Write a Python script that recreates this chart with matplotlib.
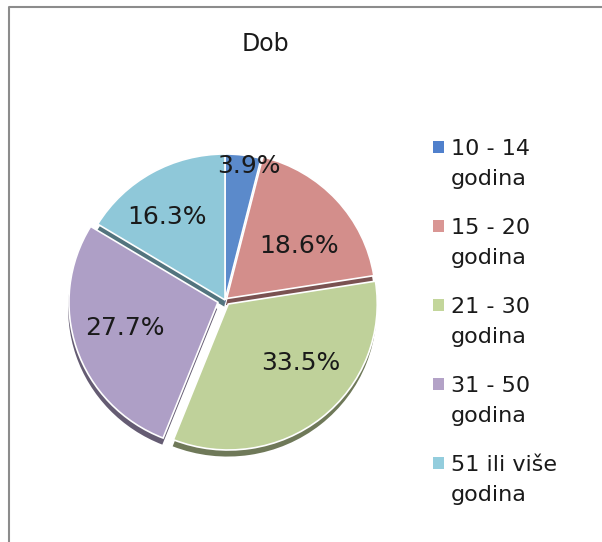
import numpy as np
import matplotlib
matplotlib.use("Agg")
import matplotlib.pyplot as plt
import matplotlib.colors as mcolors
from matplotlib.lines import Line2D
from matplotlib.patches import Rectangle, Wedge


# Data
title = "Dob"
categories = ["10 - 14\ngodina", "15 - 20\ngodina", "21 - 30\ngodina",
              "31 - 50\ngodina", "51 ili više\ngodina"]
shares = [3.9, 18.6, 33.5, 27.7, 16.3]
colors = ["#5B8ACB", "#D38E8B", "#BFD19A", "#AE9FC6", "#8FC8D9"]
legend_colors = ["#5080CC", "#D99694", "#C3D69B", "#B3A2C7", "#93CDDD"]

# Styles
explode = [0.0, 0.015, 0.035, 0.05, 0.0]
# label placement (angle offset from slice middle, distance from pie centre)
label_shift = [-3, -6, 11, -2.5, 5]
label_dist = [0.93, 0.62, 0.67, 0.70, 0.685]

W, H = 602, 542
fig = plt.figure(figsize=(W / 100, H / 100), dpi=100)

# pie axes, slightly wider than tall like the original
cx, cy = 225, 300
rx, ry = 149, 146
lim = 1.2
ax = fig.add_axes([(cx - lim * rx) / W, (H - cy - lim * ry) / H,
                   2 * lim * rx / W, 2 * lim * ry / H])
wedges, _ = ax.pie(shares, colors=colors, startangle=90, counterclock=False,
                   explode=explode,
                   wedgeprops={"edgecolor": "white", "linewidth": 1.2,
                               "zorder": 2})
ax.set_xlim(-lim, lim)
ax.set_ylim(-lim, lim)
ax.set_aspect("auto")
ax.axis("off")

# darker copy of each slice pushed down, gives the thick 3D-ish edge
for w, col in zip(wedges, colors):
    dark = np.array(mcolors.to_rgb(col)) * 0.58
    x0, y0 = w.center
    ax.add_patch(Wedge((x0 - 0.005, y0 - 0.045), w.r, w.theta1, w.theta2,
                       facecolor=dark, edgecolor="none", zorder=1))

for w, v, s, d in zip(wedges, shares, label_shift, label_dist):
    ang = np.deg2rad((w.theta1 + w.theta2) / 2 + s)
    ax.text(d * np.cos(ang), d * np.sin(ang), f"{v:.1f}%",
            ha="center", va="center", fontsize=18, color="#1a1a1a", zorder=3)

fig.text(265 / W, 1 - 44 / H, title, ha="center", va="center",
         fontsize=17, color="#1a1a1a")

# legend drawn by hand: marker next to the first line of each label
y_first = 147
step = 79
for i, (lab, col) in enumerate(zip(categories, legend_colors)):
    y = y_first + i * step
    fig.patches.append(Rectangle((433 / W, 1 - (y + 6) / H), 11 / W, 12 / H,
                                 transform=fig.transFigure, facecolor=col,
                                 edgecolor="none"))
    for j, line in enumerate(lab.split("\n")):
        fig.text(451 / W, 1 - (y + j * 30) / H, line, ha="left",
                 va="center_baseline", fontsize=16, color="#1a1a1a")

# chart frame (only left and top edges visible in the crop)
fig.lines.append(Line2D([9 / W, 9 / W, 1.0], [0.0, 1 - 7 / H, 1 - 7 / H],
                        transform=fig.transFigure, color="#8c8c8c",
                        linewidth=1.5))

fig.savefig("out.png", dpi=100)
